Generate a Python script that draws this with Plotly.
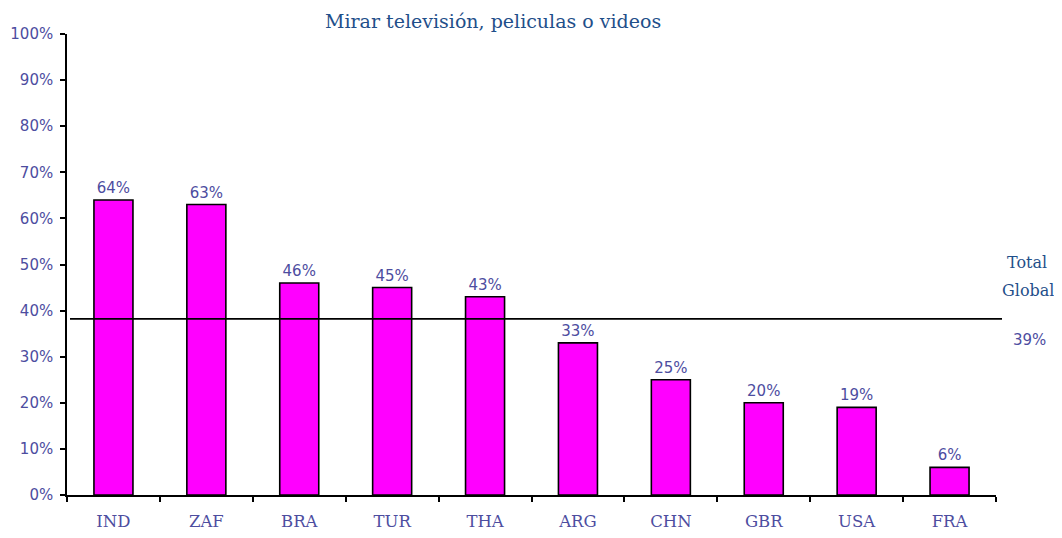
import plotly.graph_objects as go

countries = ["IND", "ZAF", "BRA", "TUR", "THA", "ARG", "CHN", "GBR", "USA", "FRA"]
shares = [64, 63, 46, 45, 43, 33, 25, 20, 19, 6]
bar_labels = ["64%", "63%", "46%", "45%", "43%", "33%", "25%", "20%", "19%", "6%"]
y_ticks = [0, 10, 20, 30, 40, 50, 60, 70, 80, 90, 100]
y_tick_labels = ["0%", "10%", "20%", "30%", "40%", "50%", "60%", "70%", "80%", "90%", "100%"]
global_level = 38.2
global_label = "39%"
title_text = "Mirar televisión, peliculas o videos"

# the page body adds an 8px margin, so the figure is laid out 8px up/left
OFF = 8
W, H = 1062 - 2 * OFF, 538 - 2 * OFF
x_left, x_right, y_top, y_bot = 67 - OFF, 996 - OFF, 34 - OFF, 495 - OFF
pw, ph = x_right - x_left, y_bot - y_top


def px(x):
    # screen x (as in the reference) -> paper fraction
    return (x - OFF - x_left) / pw


def py(y):
    return (y_bot - (y - OFF)) / ph


label_col = "#4d4d9f"
title_col = "#1f4f8a"
serif = "DejaVu Serif, Liberation Serif, serif"
sans = "DejaVu Sans, Verdana, sans-serif"

fig = go.Figure()
fig.add_trace(go.Bar(
    x=countries, y=shares, text=bar_labels, textposition="outside",
    textfont=dict(family=sans, size=15, color=label_col),
    marker=dict(color="#ff00ff", line=dict(color="black", width=1.6)),
    cliponaxis=False, showlegend=False, hoverinfo="skip",
))

# global average line, runs a bit past the x axis end
fig.add_shape(type="line", xref="paper", yref="y",
              x0=px(70), x1=px(1002), y0=global_level, y1=global_level,
              line=dict(color="black", width=1.6))

for txt, x, y in [("Total", 1027, 263), ("Global", 1028, 290)]:
    fig.add_annotation(text=txt, xref="paper", yref="paper", x=px(x), y=py(y),
                       showarrow=False, xanchor="center", yanchor="middle",
                       font=dict(family=serif, size=16, color=title_col))
fig.add_annotation(text=global_label, xref="paper", yref="paper",
                   x=px(1029), y=py(340), showarrow=False,
                   xanchor="center", yanchor="middle",
                   font=dict(family=sans, size=15, color=label_col))
fig.add_annotation(text=title_text, xref="paper", yref="paper",
                   x=px(493), y=py(21), showarrow=False,
                   xanchor="center", yanchor="middle",
                   font=dict(family=serif, size=19, color=title_col))

fig.update_layout(
    width=W, height=H,
    margin=dict(l=x_left, r=W - x_right, t=y_top, b=H - y_bot, autoexpand=False),
    paper_bgcolor="white", plot_bgcolor="white",
    bargap=0.58,
    xaxis=dict(showline=True, linecolor="black", linewidth=1.6,
               ticks="outside", tickson="boundaries", ticklen=5, tickcolor="black",
               tickwidth=1.6, showgrid=False, ticklabelstandoff=10,
               tickfont=dict(family=serif, size=16.5, color=label_col)),
    yaxis=dict(range=[0, 100], showline=True, linecolor="black", linewidth=1.6,
               ticks="outside", ticklen=5, tickcolor="black", tickwidth=1.6,
               tickvals=y_ticks, ticktext=y_tick_labels, showgrid=False, zeroline=False,
               ticklabelstandoff=4,
               tickfont=dict(family=sans, size=15, color=label_col)),
)

fig.write_html("out.html")
